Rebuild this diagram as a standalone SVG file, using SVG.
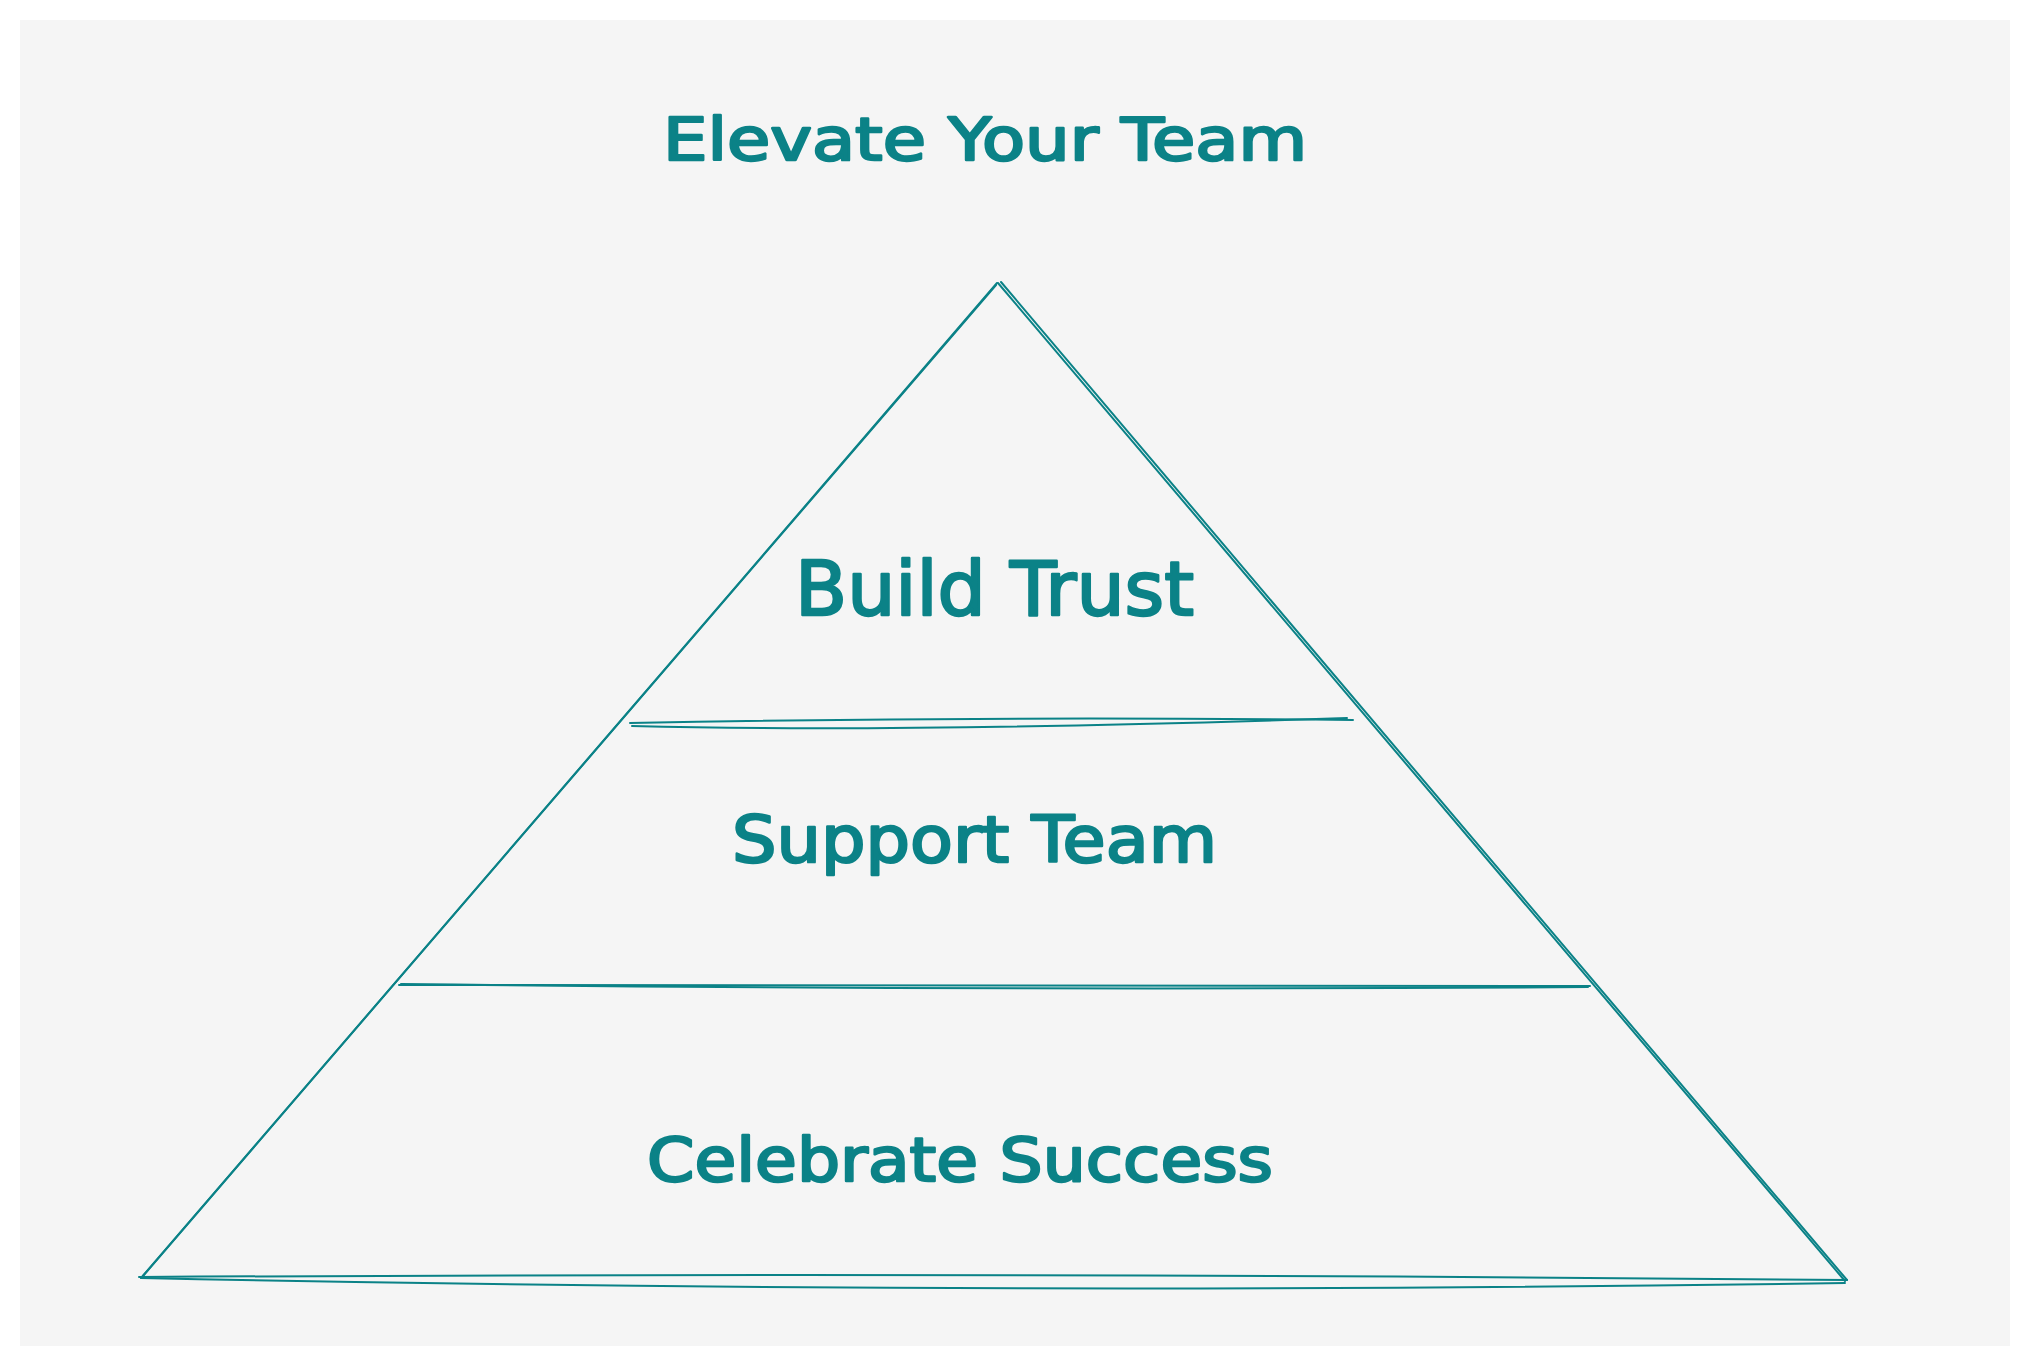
<svg xmlns="http://www.w3.org/2000/svg" width="2030" height="1367" viewBox="0 0 2030 1367">
  <style>
    .ink { fill: none; stroke: #0b8287; stroke-width: 2; stroke-linecap: round; stroke-linejoin: round; }
    .lbl { fill: #0b8287; stroke: #0b8287; stroke-width: 2.4; stroke-linejoin: round; font-family: "DejaVu Sans", "Liberation Sans", sans-serif; font-weight: normal; }
  </style>
  <rect x="0" y="0" width="2030" height="1367" fill="#ffffff"/>
  <rect x="20" y="20" width="1990" height="1326" fill="#f5f5f5"/>

  <g id="pyramid">
    <path class="ink" d="M141,1278 L996,285"/>
    <path class="ink" d="M143,1276 Q570,780 997,283"/>
    <path class="ink" d="M998,283 L1845,1281"/>
    <path class="ink" d="M1001,282 Q1424,781 1847,1280"/>
    <path class="ink" d="M139,1277 Q990,1272 1847,1280"/>
    <path class="ink" d="M141,1278 Q990,1296 1845,1283"/>
  </g>

  <g id="connectors">
    <path class="ink" d="M630,723 Q990,716 1353,720"/>
    <path class="ink" d="M632,726 Q900,733 1347,718"/>
    <path class="ink" d="M399,985 Q990,988 1590,986"/>
    <path class="ink" d="M401,984 Q990,991 1588,987"/>
  </g>

  <g id="title">
    <text class="lbl" x="663" y="160" font-size="58" textLength="644" lengthAdjust="spacingAndGlyphs">Elevate Your Team</text>
  </g>
  <g id="build-trust">
    <text class="lbl" x="795" y="615" font-size="74" textLength="399" lengthAdjust="spacingAndGlyphs">Build Trust</text>
  </g>
  <g id="support-team">
    <text class="lbl" x="732" y="862" font-size="64" textLength="485" lengthAdjust="spacingAndGlyphs">Support Team</text>
  </g>
  <g id="celebrate-success">
    <text class="lbl" x="647" y="1181" font-size="60" textLength="626" lengthAdjust="spacingAndGlyphs">Celebrate Success</text>
  </g>
</svg>
